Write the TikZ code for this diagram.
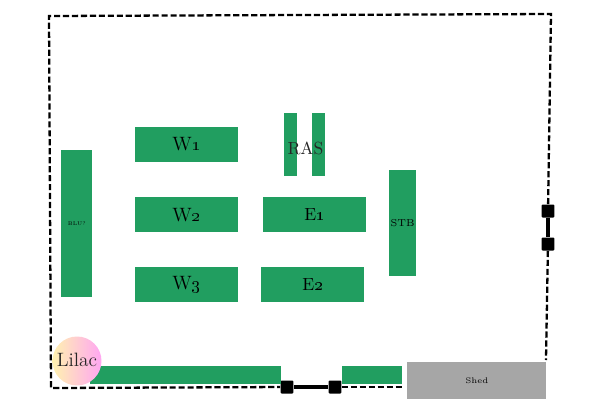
\documentclass[tikz,border=0pt]{standalone}
\begin{document}
\begin{tikzpicture}[x=0.02cm,y=-0.02cm,
  bed/.style={draw=none,fill=bedgreen,minimum width=0pt,minimum height=0pt,inner sep=0pt,anchor=north west,text=black},
  gate/.style={draw=none,fill=black,rounded corners=0.6pt,minimum size=0.26cm,inner sep=0pt},
  fence/.style={draw=black,line width=1.3pt,dash pattern=on 3.5pt off 1.6pt},
  gatebar/.style={draw=black,line width=1.8pt},
  lbl/.style={text=black!85,inner sep=0pt}]
\definecolor{bedgreen}{HTML}{219E60}
\definecolor{shedgrey}{HTML}{A6A6A6}
\definecolor{lilacA}{HTML}{FFF2B0}
\definecolor{lilacB}{HTML}{FFA6F2}
\useasboundingbox (0,0) rectangle (600,400);
\fill[white] (0,0) rectangle (600,400);
% fence
\coordinate (tl) at (49,16);
\coordinate (tr) at (551,14);
\coordinate (bl) at (51,388);
\coordinate (shedend) at (402,387);
\coordinate (rend) at (546,360);
\node[gate] (g1) at (287,387) {};
\node[gate] (g2) at (335,387) {};
\node[gate] (g3) at (548,211) {};
\node[gate] (g4) at (548,244) {};
\draw[fence] (g3) -- (tr) -- (tl) -- (bl) -- (g1);
\draw[fence] (g2) -- (shedend);
\draw[fence] (g4) -- (rend);
\draw[gatebar] (g1) -- (g2);
\draw[gatebar] (g3) -- (g4);
% beds
\path[fill=bedgreen] (90,366) rectangle (281,384);
\path[fill=bedgreen] (342,366) rectangle (402,384);
\node[bed,minimum width=2.06cm,minimum height=0.69cm,font=\fontsize{11}{11}\selectfont] (w1) at (135,127) {\raisebox{1pt}{W\oldstylenums{1}}};
\node[bed,minimum width=2.06cm,minimum height=0.70cm,font=\fontsize{11}{11}\selectfont] (w2) at (135,197) {W\oldstylenums{2}};
\node[bed,minimum width=2.06cm,minimum height=0.70cm,font=\fontsize{11}{11}\selectfont] (w3) at (135,267) {W\oldstylenums{3}};
\node[bed,minimum width=2.06cm,minimum height=0.70cm,font=\fontsize{10}{10}\selectfont] (e1) at (263,197) {E\oldstylenums{1}};
\node[bed,minimum width=2.06cm,minimum height=0.70cm,font=\fontsize{10}{10}\selectfont] (e2) at (261,267) {E\oldstylenums{2}};
\node[bed,minimum width=0.53cm,minimum height=2.12cm,font=\fontsize{5.7}{5.7}\selectfont] (stb) at (389,170) {STB};
\node[bed,minimum width=0.62cm,minimum height=2.94cm,font=\fontsize{3}{3}\selectfont] (blu) at (61,150) {BLU?};
\node[bed,minimum width=0.25cm,minimum height=1.26cm] (r1) at (284,113) {};
\node[bed,minimum width=0.25cm,minimum height=1.26cm] (r2) at (312,113) {};
\node[lbl,font=\fontsize{10}{10}\selectfont] (ras) at (305.5,148) {RAS};
% shed
\node[bed,fill=shedgrey,minimum width=2.78cm,minimum height=0.74cm,font=\fontsize{4.6}{4.6}\selectfont] (shed) at (407,362) {Shed};
% lilac
\shade[left color=lilacA,right color=lilacB] (77,361) circle (0.49cm);
\node[lbl,font=\fontsize{11}{11}\selectfont] (lilac) at (77,360) {Lilac};
\end{tikzpicture}
\end{document}
